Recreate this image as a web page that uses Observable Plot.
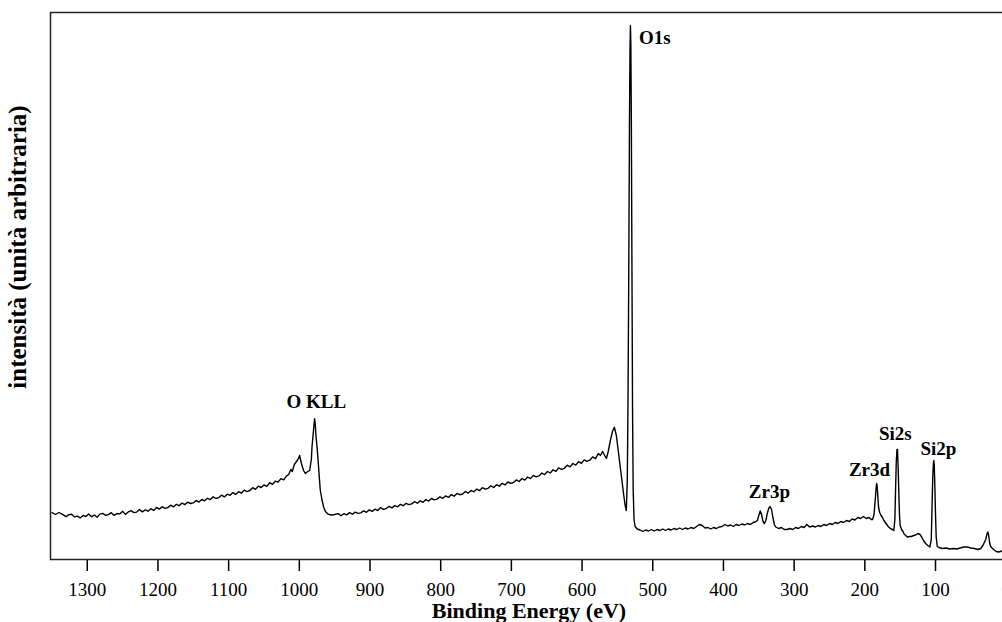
<!DOCTYPE html>
<html><head><meta charset="utf-8">
<script src="https://cdn.jsdelivr.net/npm/d3@7"></script>
<script src="https://cdn.jsdelivr.net/npm/@observablehq/plot@0.6"></script>
<style>html,body{margin:0;padding:0;overflow:hidden;background:#fff}</style>
</head><body><div id="chart"></div>
<script>
// XPS survey spectrum: [binding energy (eV), intensity (arb. units)]
const spectrum = [
[1350,46.8],[1345,45.0],[1340,47.0],[1335,45.2],[1330,42.8],[1326,44.9],[1322,45.2],[1318,42.6],[1314,43.4],[1310,41.6],[1306,44.1],[1302,43.0],[1298,45.6],[1294,42.7],[1290,44.5],[1286,42.3],[1282,45.4],[1278,46.1],[1274,44.2],[1270,44.9],[1266,46.8],[1262,44.1],[1258,46.0],[1254,45.6],[1250,48.3],[1246,45.1],[1242,47.6],[1238,48.8],[1234,46.9],[1230,47.4],[1226,49.9],[1222,47.6],[1218,49.6],[1214,48.3],[1210,50.8],[1206,49.0],[1202,52.1],[1198,50.4],[1194,52.8],[1190,51.2],[1186,51.9],[1182,54.3],[1178,52.6],[1174,55.2],[1170,53.8],[1166,56.4],[1162,54.9],[1158,57.3],[1154,56.0],[1150,56.6],[1146,59.1],[1142,57.4],[1138,60.0],[1134,58.7],[1130,61.2],[1126,59.9],[1122,62.7],[1118,61.0],[1114,61.8],[1110,64.4],[1106,62.6],[1102,65.3],[1098,64.2],[1094,66.9],[1090,65.1],[1086,67.8],[1082,66.3],[1078,69.4],[1074,67.9],[1070,69.0],[1066,71.8],[1062,70.2],[1058,73.4],[1054,72.0],[1050,74.6],[1046,73.1],[1042,76.8],[1038,75.2],[1034,78.3],[1030,77.5],[1026,80.9],[1022,79.6],[1018,83.7],[1015,85.0],[1012,90],[1010,88],[1007,95],[1005,97],[1002,100],[999.6,104],[997,96],[994,89],[991.5,86],[988,88],[985.4,89],[983,100],[982,113],[980.5,125],[979.2,135],[978.4,140.7],[977.5,136],[976.5,124],[975,113],[973,95],[971.5,80],[970.3,69],[968,60],[965.6,52.3],[963,48],[960,45.7],[955,44.5],[950,45],
[945,45.9],[941,43.7],[937,45.8],[933,44.6],[929,46.9],[925,45.3],[921,47.4],[917,46.1],[913,46.6],[909,48.7],[905,47.2],[901,49.6],[897,48.1],[893,50.3],[889,49.0],[885,51.9],[881,50.2],[877,51.0],[873,53.2],[869,51.6],[865,53.9],[861,52.7],[857,55.1],[853,53.8],[849,56.2],[845,54.9],[841,55.6],[837,57.8],[833,56.3],[829,58.7],[825,57.2],[821,59.9],[817,58.4],[813,61.0],[809,59.6],[805,60.4],[801,62.7],[797,61.2],[793,63.6],[789,62.1],[785,64.9],[781,63.3],[777,66.1],[773,64.8],[769,65.5],[765,68.0],[761,66.4],[757,69.1],[753,67.7],[749,70.4],[745,68.9],[741,71.8],[737,70.3],[733,71.2],[729,73.7],[725,72.0],[721,74.8],[717,73.3],[713,76.2],[709,74.6],[705,77.5],[701,76.1],[697,77.0],[693,79.6],[689,78.0],[685,81.0],[681,79.4],[677,82.5],[673,80.9],[669,84.1],[665,82.6],[661,83.6],[657,86.5],[653,84.9],[649,88.0],[645,86.5],[641,89.7],[637,88.2],[633,91.6],[629,90.1],[625,91.2],[621,94.3],[617,92.6],[613,96.0],[609,94.4],[605,97.8],[601,96.2],[597,99.6],[593,98.1],[589,99.3],[585,102.6],[581,100.8],[577,106],[574,104],[571,108],[568,104],[565.6,101],[563,108],[560,119],[557,128],[554.3,132.3],[551.5,124],[548,104],[544.5,84],[541,64],[539,54],[537.4,49],[536,80],[535,160],[534,280],[533,430],[532.2,510],[531.6,534],[531,515],[530.3,440],[529.5,300],[528.6,150],[527.7,70],[526.5,40],[525,33],[522,30.5],
[518,29.5],[514,28],[510,29.5],[506,28.5],[502,30],[498,28.5],[494,30],[490,29],[486,30.5],[482,29],[478,30.5],[474,29.5],[470,31],[466,30],[462,31.5],[458,30],[454,31.5],[450,30.5],[446,32],[442,31],[438,33],[434,35],[430,34],[426,31.5],[422,32],[418,30.5],[414,32],[410,31],[406,32.5],[402,33],[398,35],[394,33.5],[390,34.5],[386,33],[382,35],[378,34],[374,35.5],[370,34.5],[366,36],[362,35],[358,37],[355,37.5],[352,39],[350,44],[348,48.5],[346,45],[344,38],[342,36],[340,39],[338,46],[336,51],[334,53],[332,50],[330,42],[328,35],[326,32.5],[322,31],[318,32],[314,30],[310,30],[306,31],[302,30],[298,32],[294,31],[290,33],[286,32],[282,35],[278,32.5],[274,33.5],[270,32.5],[266,34],[262,33],[258,35],[254,34],[250,36],[246,35],[242,37],[238,36],[234,38],[230,37],[226,39],[222,38],[218,40.5],[214,39.5],[210,42],[206,41],[202,43],[198,41],[194,42],[191,40],[189,40],[187,45],[185,62],[184,72],[183.3,76],[182.5,73],[181.5,62],[180.5,52],[179,47],[177,44],[175,42],[173,39],[170,36],[167,33],[164,31],[161,30],[159,29],[157.5,40],[156.5,70],[155.5,98],[154.5,110],[153.8,110],[153,95],[152,70],[151,45],[150,34],[148,30],[146,28],[144,25],[142,24],[140,22.5],[137,23],[134,23],[131,24],[128,24.5],[125,26],[122,25],[120,23],[117,19],[114,16],[111,14],[108,12.5],[106,20],[105,50],[104,80],[103,96],[102.4,99],[101.8,95],[101,75],[100,45],[99,22],[97.5,13],[95,12],[90,11],[85,11.5],[80,10.5],[75,11],[70,10.5],[65,11.5],[60,12.5],[55,12.5],[50,11.5],[45,11],[40,10],[36,11],[33,14],[31,17],[29,20],[27,26],[26,27.5],[25,25],[23.5,17],[22,13],[20,11.5],[17,9.5],[14,8],[11,7.5],[8,8],[5,9],[2,8.5],[0,8]
];
const xTicks = [0,100,200,300,400,500,600,700,800,900,1000,1100,1200,1300];
const peakNames = ["O KLL","O1s","Zr3p","Zr3d","Si2s","Si2p"];
const peakEnergy = [975.9, 497, 335, 193.4, 156.8, 95.8];
const peakIntensity = [152, 516, 62, 84, 120, 105];
const xLabel = "Binding Energy (eV)";
const yLabel = "intensità (unità arbitraria)";

const data = spectrum.map(([E, I]) => ({E, I}));
const labels = peakNames.map((name, i) => ({name, E: peakEnergy[i], I: peakIntensity[i]}));
const font = "'Liberation Serif','Times New Roman',Times,serif";

const chart = Plot.plot({
  width: 1007, height: 622,
  marginLeft: 50, marginRight: 0, marginTop: 12, marginBottom: 63,
  style: {fontFamily: font, fontSize: "19px", background: "#fff", color: "#000", maxWidth: "none", overflow: "visible"},
  x: {domain: [1352, 0], range: [50, 1005.7]},
  y: {domain: [0, 547], axis: null},
  marks: [
    Plot.axisX({ticks: xTicks, tickSize: 12, tickPadding: 11, tickFormat: "d", label: null, strokeWidth: 1.5, fontSize: 19}),
    Plot.frame({stroke: "#222", strokeWidth: 1.5}),
    Plot.line(data, {x: "E", y: "I", stroke: "#000", strokeWidth: 1.4}),
    Plot.text(labels, {x: "E", y: "I", text: "name", fontWeight: "bold", fontSize: 19, lineAnchor: "bottom"}),
    Plot.text([xLabel], {frameAnchor: "bottom", dy: 58, fontWeight: "bold", fontSize: 22, lineAnchor: "bottom"}),
    Plot.text([yLabel], {frameAnchor: "left", textAnchor: "middle", rotate: -90, dx: -33, dy: -39, fontWeight: "bold", fontSize: 25})
  ]
});
document.getElementById("chart").appendChild(chart);
</script>
</body></html>
